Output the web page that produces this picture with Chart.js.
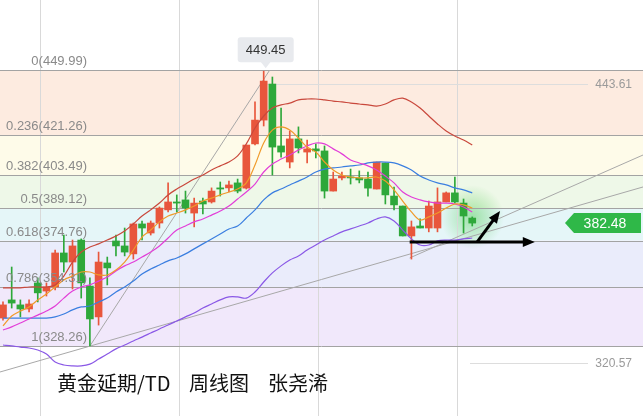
<!DOCTYPE html>
<html>
<head>
<meta charset="utf-8">
<script src="https://cdn.jsdelivr.net/npm/chart.js@4.4.0/dist/chart.umd.min.js"></script>
<style>
html, body { margin: 0; padding: 0; background: #fff; }
#wrap { width: 643px; height: 416px; position: relative; }
</style>
</head>
<body>
<div id="wrap"><canvas id="chart_canvas"></canvas></div>
<script>
// weekly candles, index 0 = leftmost visible week
const opens  = [340.6,348.6,346.4,344.6,356.1,352.5,354.3,369.3,365.3,375.0,354.7,341.1,364.9,374.6,372.4,368.9,382.1,378.1,382.5,388.3,391.8,392.7,386.9,392.2,391.8,398.0,398.0,400.2,397.9,417.4,427.9,443.8,416.5,409.4,419.6,413.8,415.2,414.3,396.6,402.4,402.8,402.4,401.9,397.5,409.0,394.4,390.0,376.8,381.2,380.3,380.3,391.8,395.8,391.3,384.7];
const highs  = [347.7,363.1,348.6,348.6,358.3,356.1,370.6,377.2,375.0,375.5,358.3,369.7,367.5,377.2,380.3,382.5,383.4,383.4,389.6,400.2,394.9,396.6,393.5,393.5,398.0,400.6,401.0,401.9,416.9,435.9,449.45,446.9,433.2,423.1,424.9,419.1,417.4,416.5,405.0,405.0,406.3,405.5,405.0,409.4,409.0,398.4,390.0,383.4,384.3,392.2,398.0,396.2,402.8,393.1,385.2];
const lows   = [339.7,345.0,341.1,343.3,347.7,350.3,353.0,360.9,353.4,349.4,328.26,337.5,355.2,368.0,368.0,366.6,375.0,377.2,380.3,387.4,387.4,386.9,380.8,386.5,391.3,394.4,396.2,395.8,397.5,416.9,425.3,403.7,411.6,406.8,413.4,409.0,411.2,393.5,396.6,401.5,399.7,400.2,394.4,397.5,390.9,388.3,376.8,366.6,380.3,378.6,378.6,391.8,391.3,378.1,381.2];
const closes = [346.4,347.2,344.6,346.8,351.7,354.3,369.3,365.3,372.4,356.1,340.2,365.3,362.7,372.4,369.7,382.1,380.3,382.5,389.1,391.8,391.3,389.1,391.3,390.9,396.6,397.5,399.3,396.6,416.9,427.9,445.1,416.0,413.8,419.6,415.6,415.2,414.3,396.6,401.9,403.2,402.4,401.5,397.9,409.4,394.9,390.5,376.8,380.8,380.3,390.0,391.8,395.8,391.8,385.6,382.48];

// moving averages / bands
const maOrange  = [337.1,341.5,343.7,345.5,348.6,351.2,354.3,357.4,359.1,360.9,360.9,359.6,359.6,361.8,365.3,370.6,376.3,379.4,383.0,385.6,386.9,388.3,390.0,392.2,393.5,394.9,396.2,397.5,400.2,408.1,417.8,423.5,424.9,423.5,420.0,416.0,413.8,409.4,405.9,403.7,402.8,402.4,402.4,402.8,401.0,397.1,392.2,387.4,383.8,385.2,386.9,389.1,390.9,390.5,389.1];
const maMagenta = [335.3,336.7,338.4,340.2,341.9,343.7,345.9,349.4,352.5,354.3,355.2,356.9,358.7,361.4,363.6,365.3,367.5,369.7,372.4,375.9,379.4,381.2,383.0,384.3,386.0,387.8,390.0,393.1,396.2,399.7,405.0,408.5,410.7,412.5,414.7,416.5,417.8,417.4,415.2,413.0,410.3,409.0,407.7,405.9,403.2,400.2,396.2,394.0,392.7,391.8,391.3,391.3,390.9,389.6,387.4];
const maBlue    = [340.6,340.6,340.6,340.6,340.6,340.6,341.1,342.4,344.2,345.5,345.9,347.7,349.4,352.1,354.3,356.9,360.0,362.2,364.0,365.8,367.1,368.9,371.1,373.3,375.5,377.7,379.9,381.2,384.7,388.3,392.7,395.8,397.5,399.3,401.0,402.8,405.0,406.3,406.8,407.2,407.7,408.1,409.0,409.4,409.4,409.0,407.7,405.9,403.2,401.5,400.2,399.3,398.0,397.1,395.8];
const bandUpper = [353.9,353.9,353.9,354.3,354.3,354.3,355.2,359.1,365.3,369.7,371.9,373.3,375.0,376.8,379.0,382.1,385.6,388.3,391.3,394.9,397.5,399.7,401.9,403.7,405.9,407.7,409.4,412.1,417.4,424.4,429.7,433.2,434.6,435.4,436.8,437.2,437.2,436.8,436.3,435.9,435.4,435.0,434.6,434.1,435.0,436.8,437.6,435.9,433.2,429.7,426.2,423.1,420.9,419.1,416.9];
const bandLower = [328.7,328.3,327.8,327.4,326.5,324.7,321.2,319.9,319.5,319.5,320.3,322.5,324.7,327.0,328.7,330.5,332.2,334.0,335.8,337.5,339.3,341.1,342.8,345.0,346.8,348.6,349.9,349.9,349.4,352.1,356.5,360.5,363.6,366.2,368.0,370.6,372.8,375.0,376.8,378.6,379.9,381.2,382.5,384.3,385.2,383.4,379.4,375.5,372.8,372.8,374.6,375.0,375.0,375.5,375.9];

// fibonacci retracement
const fibRatios = ['0','0.236','0.382','0.5','0.618','0.786','1'];
const fibValues = [449.99,421.26,403.49,389.12,374.76,354.31,328.26];
const bandColors = ['#fdebe0','#fefbe9','#eef8e8','#e5f6f8','#eaecfb','#f1e8fb'];

// trend lines [x1, y1, x2, y2] in week index / price
const trendLines = [[10,328.26,30.7,449.99],[-0.35,316.8,73.65,398.4],[46.8,367.1,73.65,412.5]];
const arrows = [[46.8,374.1,61.2,374.1],[54.55,374.1,57.2,387.8]];
const gridWeeks = [4.25,20.25,36.25,52.25];
const highLabel = 449.45, lastPrice = 382.48;
const sideMarks = [443.61, 320.57];
const titleParts = ['黄金延期/TD', '周线图', '张尧浠'];

const RED = '#e8563c', GREEN = '#2ea83a';
const colorOf = i => closes[i] > opens[i] ? RED : GREEN;
const idx = opens.map((_, i) => i);

function lineSet(vals, color) {
    return { type: 'line', data: vals.map((v, i) => ({x: i, y: v})), borderColor: color,
             borderWidth: 1.2, pointRadius: 0, tension: 0.35, order: 1 };
}

const decor = {
    id: 'decor',
    beforeDatasetsDraw(chart) {
        const {ctx, chartArea: a, scales: {x, y}} = chart;
        ctx.save();
        for (let i = 0; i < bandColors.length; i++) {
            const t = y.getPixelForValue(fibValues[i]), b = y.getPixelForValue(fibValues[i + 1]);
            ctx.fillStyle = bandColors[i];
            ctx.fillRect(a.left, t, a.width, b - t);
        }
        // glow round the last candle
        const gx = x.getPixelForValue(opens.length - 1), gy = y.getPixelForValue(lastPrice) - 6;
        const g = ctx.createRadialGradient(gx, gy, 0, gx, gy, 32);
        g.addColorStop(0, 'rgba(70,200,70,0.45)');
        g.addColorStop(1, 'rgba(70,200,70,0)');
        ctx.fillStyle = g;
        ctx.fillRect(gx - 32, gy - 32, 64, 64);

        ctx.lineWidth = 1;
        ctx.strokeStyle = '#d9d9d9';
        for (const w of gridWeeks) {
            const px = Math.round(x.getPixelForValue(w)) + 0.5;
            ctx.beginPath(); ctx.moveTo(px, a.top); ctx.lineTo(px, a.bottom); ctx.stroke();
        }
        ctx.strokeStyle = '#a3a3a3';
        for (const v of fibValues) {
            const py = Math.round(y.getPixelForValue(v)) + 0.5;
            ctx.beginPath(); ctx.moveTo(a.left, py); ctx.lineTo(a.right, py); ctx.stroke();
        }
        ctx.strokeStyle = '#dddddd';
        const hy = Math.round(y.getPixelForValue(sideMarks[0])) + 0.5;
        ctx.beginPath(); ctx.moveTo(x.getPixelForValue(30), hy); ctx.lineTo(588, hy); ctx.stroke();
        const ly = Math.round(y.getPixelForValue(sideMarks[1])) + 0.5;
        ctx.beginPath(); ctx.moveTo(470, ly); ctx.lineTo(588, ly); ctx.stroke();

        ctx.strokeStyle = '#a8a8a8';
        for (const t of trendLines) {
            ctx.beginPath();
            ctx.moveTo(x.getPixelForValue(t[0]), y.getPixelForValue(t[1]));
            ctx.lineTo(x.getPixelForValue(t[2]), y.getPixelForValue(t[3]));
            ctx.stroke();
        }
        ctx.restore();
    },
    afterDatasetsDraw(chart) {
        const {ctx, scales: {x, y}} = chart;
        ctx.save();
        ctx.font = '13px "Liberation Sans", Arial, sans-serif';
        ctx.fillStyle = '#8a8a8a';
        ctx.textAlign = 'right';
        ctx.textBaseline = 'alphabetic';
        fibValues.forEach((v, i) => {
            ctx.fillText(fibRatios[i] + '(' + v.toFixed(2) + ')', 87, y.getPixelForValue(v) - 5);
        });
        ctx.font = '12px "Liberation Sans", Arial, sans-serif';
        ctx.fillStyle = '#9a9a9a';
        ctx.textBaseline = 'middle';
        for (const v of sideMarks) ctx.fillText(v.toFixed(2), 632, y.getPixelForValue(v));

        // arrows
        ctx.strokeStyle = '#000'; ctx.fillStyle = '#000'; ctx.lineWidth = 3;
        for (const r of arrows) {
            const x1 = x.getPixelForValue(r[0]), y1 = y.getPixelForValue(r[1]);
            const x2 = x.getPixelForValue(r[2]), y2 = y.getPixelForValue(r[3]);
            const ang = Math.atan2(y2 - y1, x2 - x1);
            ctx.beginPath(); ctx.moveTo(x1, y1);
            ctx.lineTo(x2 - 8 * Math.cos(ang), y2 - 8 * Math.sin(ang)); ctx.stroke();
            ctx.beginPath();
            ctx.moveTo(x2, y2);
            ctx.lineTo(x2 - 12 * Math.cos(ang) + 5 * Math.sin(ang), y2 - 12 * Math.sin(ang) - 5 * Math.cos(ang));
            ctx.lineTo(x2 - 12 * Math.cos(ang) - 5 * Math.sin(ang), y2 - 12 * Math.sin(ang) + 5 * Math.cos(ang));
            ctx.closePath(); ctx.fill();
        }

        // high bubble
        const bx = x.getPixelForValue(30) + 2, by = y.getPixelForValue(highLabel);
        ctx.fillStyle = '#e8eaee';
        ctx.beginPath();
        if (ctx.roundRect) ctx.roundRect(bx - 28, by - 34, 56, 25, 3); else ctx.rect(bx - 28, by - 34, 56, 25);
        ctx.fill();
        ctx.beginPath(); ctx.moveTo(bx - 5, by - 9.5); ctx.lineTo(bx + 5, by - 9.5); ctx.lineTo(bx, by - 3); ctx.closePath(); ctx.fill();
        ctx.fillStyle = '#333';
        ctx.font = '13px "Liberation Sans", Arial, sans-serif';
        ctx.textAlign = 'center';
        ctx.fillText(highLabel.toFixed(2), bx, by - 21);

        // last price tag
        const ty = y.getPixelForValue(lastPrice);
        ctx.fillStyle = '#2fb848';
        ctx.beginPath();
        ctx.moveTo(565, ty); ctx.lineTo(574, ty - 10); ctx.lineTo(641, ty - 10);
        ctx.lineTo(641, ty + 10); ctx.lineTo(574, ty + 10); ctx.closePath(); ctx.fill();
        ctx.fillStyle = '#fff';
        ctx.font = '14px "Liberation Sans", Arial, sans-serif';
        ctx.fillText(lastPrice.toFixed(2), 605, ty + 1);

        // title, three words spread as in the original
        ctx.fillStyle = '#111';
        ctx.textAlign = 'left';
        ctx.textBaseline = 'alphabetic';
        ctx.font = '20px "Noto Sans CJK SC", sans-serif';
        const tx = [57, 189, 268];
        titleParts.forEach((s, i) => ctx.fillText(s, tx[i], 391));
        ctx.restore();
    }
};

var ctx = document.getElementById('chart_canvas').getContext('2d');
var myChart = new Chart(ctx, {
    type: 'bar',
    data: {
        datasets: [
            lineSet(bandUpper, '#c9483c'),
            lineSet(maOrange, '#f09a2a'),
            lineSet(maMagenta, '#e23ed8'),
            lineSet(maBlue, '#3a7ee0'),
            lineSet(bandLower, '#8a58e6'),
            { data: idx.map(i => ({x: i, y: [lows[i], highs[i]]})), backgroundColor: c => colorOf(c.dataIndex),
              barThickness: 1, grouped: false, order: 3 },
            { data: idx.map(i => ({x: i, y: [opens[i], closes[i]]})), backgroundColor: c => colorOf(c.dataIndex),
              barThickness: 7, minBarLength: 1, grouped: false, order: 2 }
        ]
    },
    options: {
        responsive: true,
        maintainAspectRatio: false,
        animation: false,
        layout: { padding: 0 },
        plugins: { legend: { display: false }, tooltip: { enabled: false } },
        scales: {
            x: { type: 'linear', display: false, offset: false, min: -0.345, max: 73.65 },
            y: { type: 'linear', display: false, min: 297.4, max: 480.86 }
        }
    },
    plugins: [decor]
});
</script>
</body>
</html>
